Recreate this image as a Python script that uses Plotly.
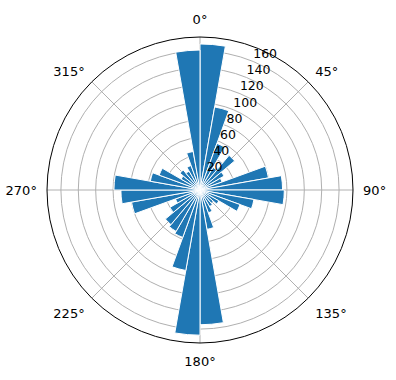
import plotly.graph_objects as go

bin_start = list(range(0, 360, 10))
counts = [168, 97, 57, 30, 52, 32, 27, 80, 95,
          97, 63, 49, 25, 20, 22, 28, 46, 155,
          167, 94, 58, 55, 52, 40, 30, 80, 91,
          99, 58, 50, 25, 30, 25, 30, 45, 161]
angle_ticks = [0, 45, 90, 135, 180, 225, 270, 315]
angle_labels = [f"{a}°" for a in angle_ticks]
r_ticks = [20, 40, 60, 80, 100, 120, 140, 160]
r_label_angle = 22.5

theta = [b + 5 for b in bin_start]

fig = go.Figure()
fig.add_trace(go.Barpolar(
    r=counts, theta=theta, width=[10] * len(theta),
    marker=dict(color="#1f77b4", line=dict(color="white", width=1)),
))
fig.add_trace(go.Scatterpolar(
    r=r_ticks, theta=[r_label_angle] * len(r_ticks), mode="text",
    text=[str(v) for v in r_ticks], textposition="top right",
    textfont=dict(family="DejaVu Sans", size=12.5, color="black"),
    cliponaxis=False, hoverinfo="skip",
))
fig.update_layout(
    width=396, height=380,
    margin=dict(l=47, r=43, t=37, b=37),
    paper_bgcolor="white", plot_bgcolor="white",
    showlegend=False,
    font=dict(family="DejaVu Sans", size=13, color="black"),
    polar=dict(
        bgcolor="white",
        bargap=0,
        radialaxis=dict(range=[0, 176], tickvals=r_ticks, showline=False,
                        showticklabels=False,
                        ticks="", gridcolor="#b0b0b0", gridwidth=0.8,
                        angle=90 - r_label_angle, layer="above traces"),
        angularaxis=dict(direction="clockwise", rotation=90,
                         tickvals=angle_ticks, ticktext=angle_labels,
                         showline=True, linecolor="black", linewidth=1,
                         ticks="outside", ticklen=7, tickcolor="rgba(0,0,0,0)",
                         gridcolor="#b0b0b0", gridwidth=0.8,
                         layer="above traces", tickfont=dict(size=13)),
    ),
)
fig.write_html("out.html")
